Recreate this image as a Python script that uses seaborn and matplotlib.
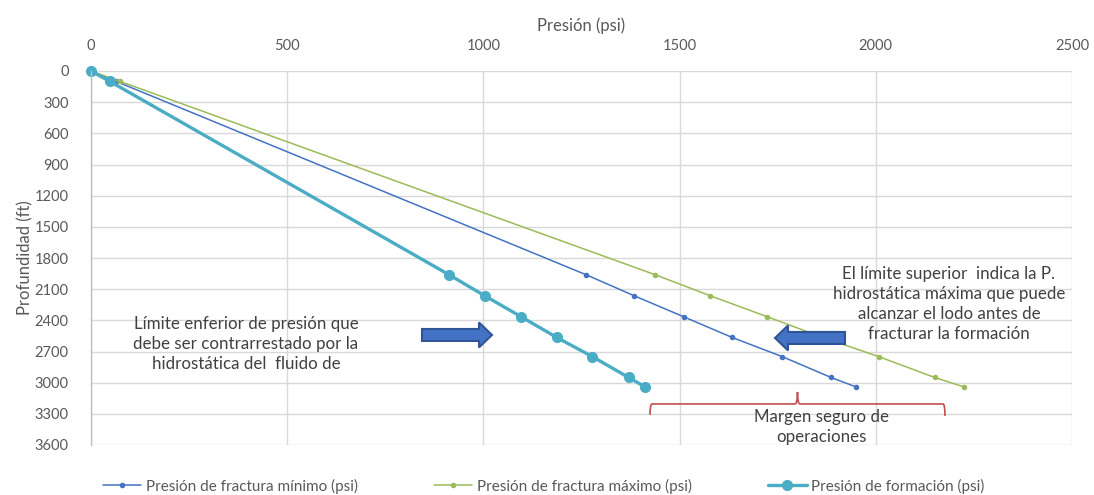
import matplotlib
matplotlib.use("Agg")
import matplotlib.pyplot as plt
import seaborn as sns
import pandas as pd
from matplotlib.patches import FancyArrow, PathPatch
from matplotlib.path import Path

# ---- data ----
depth_ft = [0, 100, 1960, 2163, 2365, 2565, 2750, 2950, 3040]
p_frac_min = [0, 64, 1261, 1384, 1510, 1634, 1762, 1886, 1949]
p_frac_max = [0, 74, 1437, 1578, 1723, 1865, 2008, 2150, 2224]
p_formacion = [0, 48, 912, 1003, 1096, 1187, 1278, 1370, 1412]

labels = ["Presión de fractura mínimo (psi)",
          "Presión de fractura máximo (psi)",
          "Presión de formación (psi)"]
x_ticks = [0, 500, 1000, 1500, 2000, 2500]
y_ticks = list(range(0, 3601, 300))

sns.set_theme(style="white")
plt.rcParams['font.family'] = ['Lato', 'DejaVu Sans']

fig = plt.figure(figsize=(10.94, 4.95), dpi=100)
ax = fig.add_axes([91/1094, 1-445/495, (1072-91)/1094, (445-71)/495])

df = pd.DataFrame({"depth": depth_ft, "min": p_frac_min,
                   "max": p_frac_max, "form": p_formacion})

sns.lineplot(data=df, x="min", y="depth", sort=False, estimator=None, ax=ax,
             color="#4472C4", lw=1.1, marker="o", markersize=4,
             markeredgewidth=0, label=labels[0], clip_on=False)
sns.lineplot(data=df, x="max", y="depth", sort=False, estimator=None, ax=ax,
             color="#9BBB59", lw=1.1, marker="o", markersize=4,
             markeredgewidth=0, label=labels[1], clip_on=False)
sns.lineplot(data=df, x="form", y="depth", sort=False, estimator=None, ax=ax,
             color="#4BACC6", lw=2.4, marker="o", markersize=8,
             markeredgewidth=0, label=labels[2], clip_on=False)

ax.set_xlim(0, 2500)
ax.set_ylim(3600, 0)
ax.set_xticks(x_ticks)
ax.set_yticks(y_ticks)
ax.xaxis.tick_top()
ax.xaxis.set_label_position("top")
ax.tick_params(axis="both", length=0, labelsize=10.5, labelcolor="#595959")
ax.tick_params(axis="x", pad=13)
ax.tick_params(axis="y", pad=16)
ax.set_xlabel("Presión (psi)", fontsize=12, color="#595959", labelpad=6)
ax.set_ylabel("Profundidad (ft)", fontsize=12, color="#595959", labelpad=1)
ax.grid(True, color="#D9D9D9", lw=1)
ax.set_axisbelow(True)
for s in ["top", "right", "bottom"]:
    ax.spines[s].set_visible(False)
ax.spines["left"].set_color("#BFBFBF")
ax.spines["left"].set_linewidth(1)

# legend
handles, labs = ax.get_legend_handles_labels()
ax.get_legend().remove()
fig.legend(handles, labs, loc="center", bbox_to_anchor=(0.497, 1-486/495),
           ncol=3, frameon=False, fontsize=11, columnspacing=5.0,
           handlelength=2.5, handletextpad=0.3, labelcolor="#595959")

# annotations
px2x = 1/0.3924
px2y = 1/0.1039
def X(px): return (px-91)*px2x
def Y(py): return (py-71)*px2y

txt_col = "#404040"
ax.text(X(246), Y(344),
        "Límite enferior de presión que\ndebe ser contrarrestado por la\nhidrostática del  fluido de",
        ha="center", va="center", fontsize=12.2, color=txt_col, linespacing=1.3)
ax.text(X(949), Y(304),
        "El límite superior  indica la P.\nhidrostática máxima que puede\nalcanzar el lodo antes de\nfracturar la formación",
        ha="center", va="center", fontsize=12.2, color=txt_col, linespacing=1.3)
ax.text(X(821), Y(427),
        "Margen seguro de\noperaciones",
        ha="center", va="center", fontsize=12.2, color=txt_col, linespacing=1.3)

arrow_kw = dict(width=12*px2y, head_width=25*px2y, head_length=13*px2x,
                length_includes_head=True, facecolor="#4472C4",
                edgecolor="#2F5597", lw=1.5, zorder=5)
ax.add_patch(FancyArrow(X(422), Y(335), 70*px2x, 0, **arrow_kw))
ax.add_patch(FancyArrow(X(845), Y(338), -70*px2x, 0, **arrow_kw))

# curly bracket
verts = [(X(650), Y(415)), (X(650), Y(404)), (X(652), Y(404)),
         (X(795), Y(404)), (X(797.5), Y(404)), (X(797.5), Y(392)),
         (X(797.5), Y(392)), (X(797.5), Y(404)), (X(800), Y(404)),
         (X(943), Y(404)), (X(945), Y(404)), (X(945), Y(416))]
codes = [Path.MOVETO, Path.CURVE3, Path.CURVE3,
         Path.LINETO, Path.CURVE3, Path.CURVE3,
         Path.MOVETO, Path.CURVE3, Path.CURVE3,
         Path.LINETO, Path.CURVE3, Path.CURVE3]
ax.add_patch(PathPatch(Path(verts, codes), facecolor="none",
                       edgecolor="#C0504D", lw=1.2, clip_on=False, zorder=4))

fig.savefig("out.png", dpi=100)
